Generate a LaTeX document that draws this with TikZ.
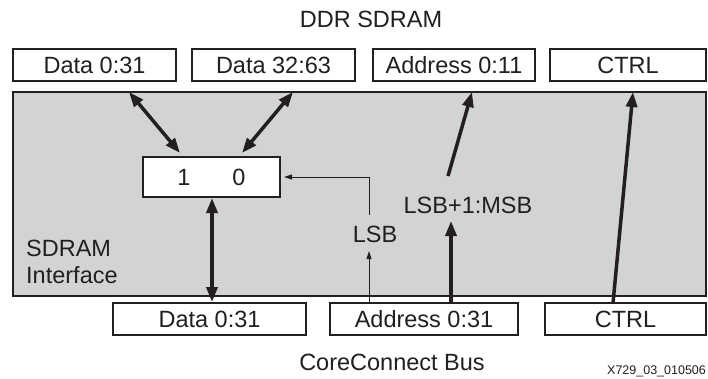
\documentclass[tikz,border=0pt]{standalone}
\usepackage{fontspec}
\setmainfont{Liberation Sans}
\usetikzlibrary{arrows.meta}
\definecolor{ink}{RGB}{35,31,32}
\definecolor{panel}{RGB}{209,211,212}
\begin{document}
\begin{tikzpicture}[x=1pt,y=-1pt,
  txt/.style={inner sep=0pt,text=ink,font=\fontsize{23.5}{28}\selectfont},
  box/.style={txt,draw=ink,line width=2pt,fill=white,minimum height=32pt},
  bus/.style={draw=ink,line width=3.5pt,-{Triangle[length=15pt,width=11pt]}},
  bibus/.style={draw=ink,line width=3.5pt,{Triangle[length=15pt,width=11pt]}-{Triangle[length=15pt,width=11pt]}},
  sig/.style={draw=ink,line width=1pt,-{Triangle[length=8pt,width=5pt]}}]
\useasboundingbox (0,0) rectangle (708,378);
\fill[white] (0,0) rectangle (708,378);
% interface panel
\node[draw=ink,fill=panel,line width=2.5pt,minimum width=693pt,minimum height=204pt,inner sep=0pt] (iface) at (359.5,194) {};
% DDR SDRAM side
\node[box,minimum width=163pt] (d0t) at (94.5,65) {Data 0:31};
\node[box,minimum width=163pt] (d32t) at (273.5,65) {Data 32:63};
\node[box,minimum width=162pt] (a11) at (454,65) {Address 0:11};
\node[box,minimum width=156pt] (ctrlt) at (628,65) {CTRL};
% CoreConnect side
\node[box,minimum width=193pt] (d0b) at (209.5,319) {Data 0:31};
\node[box,minimum width=188pt] (a31) at (424,319) {Address 0:31};
\node[box,minimum width=161pt] (ctrlb) at (625.5,319) {CTRL};
% mux
\node[box,minimum width=137pt,minimum height=40pt] (mux) at (211.5,177) {1\hspace{42pt}0};
% labels
\node[txt,anchor=base] (ddr) at (371,27) {DDR SDRAM};
\node[txt,anchor=base] (ccb) at (392,370) {CoreConnect Bus};
\node[txt,anchor=base west] (ifl1) at (26,256) {SDRAM};
\node[txt,anchor=base west] (ifl2) at (26,283) {Interface};
\node[txt] (lsb) at (375,234) {LSB};
\node[txt] (msb) at (468,205) {LSB+1:MSB};
\node[inner sep=0pt,anchor=base west,text=ink,font=\fontsize{12.5}{15}\selectfont] (fig) at (607,374) {X729\_03\_010506};
% coordinates
\coordinate (c1) at (129,92);
\coordinate (c2) at (180,153);
\coordinate (c3) at (293,92);
\coordinate (c4) at (242,153);
\coordinate (c5) at (448,176);
\coordinate (c6) at (472,92);
\coordinate (c7) at (613,303);
\coordinate (c8) at (633,92);
\coordinate (c9) at (451,303);
\coordinate (c10) at (451,221);
\coordinate (c11) at (369,303);
\coordinate (c12) at (369,251);
\coordinate (c13) at (369,215);
\coordinate (c14) at (369,177);
% connectors
\draw[bibus] (c1) -- (c2);
\draw[bibus] (c3) -- (c4);
\draw[bus] (c5) -- (c6);
\draw[bus] (c7) -- (c8);
\draw[bibus] (212,198) -- (212,302);
\draw[bus] (c9) -- (c10);
\draw[sig] (c11) -- (c12);
\draw[sig] (c13) -- (c14) -- ([xshift=3pt]mux.east);
\end{tikzpicture}
\end{document}
